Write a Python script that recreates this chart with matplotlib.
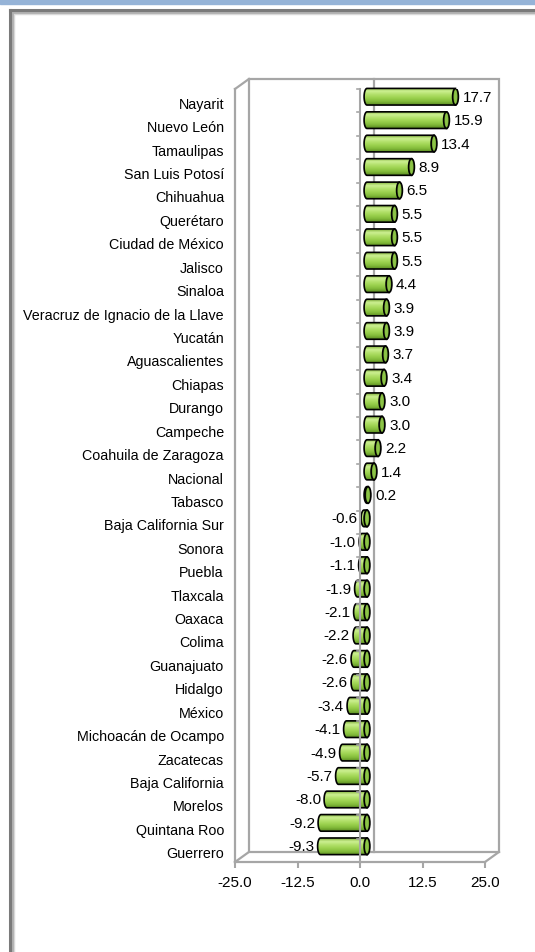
import matplotlib
matplotlib.use("Agg")
import matplotlib.pyplot as plt
import numpy as np
from matplotlib.patches import Rectangle, Ellipse, PathPatch
from matplotlib.path import Path
from matplotlib.lines import Line2D
from matplotlib.colors import LinearSegmentedColormap

plt.rcParams['font.family'] = ['Liberation Sans', 'DejaVu Sans']

estados = ["Nayarit", "Nuevo León", "Tamaulipas", "San Luis Potosí", "Chihuahua",
           "Querétaro", "Ciudad de México", "Jalisco", "Sinaloa",
           "Veracruz de Ignacio de la Llave", "Yucatán", "Aguascalientes", "Chiapas",
           "Durango", "Campeche", "Coahuila de Zaragoza", "Nacional", "Tabasco",
           "Baja California Sur", "Sonora", "Puebla", "Tlaxcala", "Oaxaca", "Colima",
           "Guanajuato", "Hidalgo", "México", "Michoacán de Ocampo", "Zacatecas",
           "Baja California", "Morelos", "Quintana Roo", "Guerrero"]
valores = [17.7, 15.9, 13.4, 8.9, 6.5, 5.5, 5.5, 5.5, 4.4, 3.9, 3.9, 3.7, 3.4, 3.0, 3.0,
           2.2, 1.4, 0.2, -0.6, -1.0, -1.1, -1.9, -2.1, -2.2, -2.6, -2.6, -3.4, -4.1,
           -4.9, -5.7, -8.0, -9.2, -9.3]
ticks_x = [-25, -12.5, 0, 12.5, 25]

W, H = 535, 953
fig = plt.figure(figsize=(W / 100, H / 100), dpi=100)

# franja azul y marco del recuadro
fig.patches.append(Rectangle((0, 1 - 5 / H), 1, 5 / H, transform=fig.transFigure,
                             color="#95b3d7", zorder=0))
for off, lw, col in [(3, 2.5, "#d9d9d9"), (1.5, 2.0, "#b0b0b0"), (0, 2.2, "#7a7a7a")]:
    x = (10 + off) / W
    y = 1 - (11 + off) / H
    fig.lines.append(Line2D([x, x], [0, y], transform=fig.transFigure, color=col, lw=lw))
    fig.lines.append(Line2D([x, 1], [y, y], transform=fig.transFigure, color=col, lw=lw))

ax = fig.add_axes([235 / W, 90 / H, 250 / W, 773 / H])
ax.set_facecolor("none")
n = len(estados)
gris = "#a6a6a6"

# profundidad 3D en unidades de datos
DX, DY = 2.8, 0.43

# pared del fondo, pared lateral y piso
ax.add_patch(Rectangle((-25 + DX, -0.5 - DY), 50, n, fill=False, ec=gris, lw=1.6,
                       clip_on=False, zorder=1))
for (xa, ya) in [(-25, -0.5), (-25, n - 0.5), (25, n - 0.5)]:
    ax.plot([xa, xa + DX], [ya, ya - DY], color=gris, lw=1.6, clip_on=False, zorder=1)
ax.plot([DX, DX], [-0.5 - DY, n - 0.5 - DY], color=gris, lw=1.6, clip_on=False, zorder=1)

cmap = LinearSegmentedColormap.from_list(
    "verde", ["#7fb03a", "#cdf092", "#b2e06a", "#9bd14e", "#82bb3a", "#5b8c22"])
grad = np.linspace(0, 1, 60).reshape(-1, 1)

h = 0.71
rx = 0.58
x0 = DX / 2
for i, (nombre, v) in enumerate(zip(estados, valores)):
    yc = i - 0.17
    xl, xr = min(x0, x0 + v), max(x0, x0 + v)
    t = np.linspace(np.pi / 2, 3 * np.pi / 2, 30)
    izq = np.column_stack([xl + rx * np.cos(t), yc + (h / 2) * np.sin(t)])
    verts = np.vstack([izq, [[xr, yc - h / 2], [xr, yc + h / 2]], izq[:1]])
    cuerpo = PathPatch(Path(verts, closed=True), fc="none", ec="black", lw=1.2,
                       zorder=4, clip_on=False)
    ax.add_patch(cuerpo)
    im = ax.imshow(grad, extent=[xl - rx, xr, yc + h / 2, yc - h / 2], cmap=cmap,
                   aspect="auto", interpolation="bilinear", zorder=3)
    im.set_clip_path(cuerpo)
    ax.add_patch(Ellipse((xr, yc), 2 * rx, h, fc="#6f9f30", ec="black", lw=1.2, zorder=5))
    ax.add_patch(Ellipse((xr, yc), 1.0 * rx, h * 0.8, fc="#8cc447", ec="none", zorder=5))

    if v >= 0:
        ax.annotate(f"{v:.1f}", xy=(x0 + v, yc), xytext=(7, 0), textcoords="offset pixels",
                    ha="left", va="center", fontsize=11, zorder=6)
    else:
        ax.annotate(f"{v:.1f}", xy=(x0 + v, yc), xytext=(-6, 0), textcoords="offset pixels",
                    ha="right", va="center", fontsize=11, zorder=6)
    ax.annotate(nombre, xy=(-25, i), xytext=(-11, -3), textcoords="offset pixels",
                ha="right", va="center", fontsize=10.3, annotation_clip=False)

# eje de categorías en cero con marcas
ax.plot([0, 0], [-0.5, n - 0.5], color=gris, lw=1.5, zorder=6, clip_on=False)
for b in np.arange(-0.5, n, 1.0):
    ax.plot([-0.7, 0], [b, b], color=gris, lw=1.2, zorder=6, clip_on=False)

ax.set_xlim(-25, 25)
ax.set_ylim(n - 0.5, -0.5)
ax.set_yticks([])
ax.set_xticks(ticks_x)
ax.set_xticklabels([f"{t:.1f}" for t in ticks_x])
ax.tick_params(axis="x", direction="out", length=4.3, width=1.5, color=gris,
               labelsize=11, pad=5)
for s in ["top", "right"]:
    ax.spines[s].set_visible(False)
for s in ["left", "bottom"]:
    ax.spines[s].set_color(gris)
    ax.spines[s].set_linewidth(1.6)

fig.savefig("out.png", dpi=100)
